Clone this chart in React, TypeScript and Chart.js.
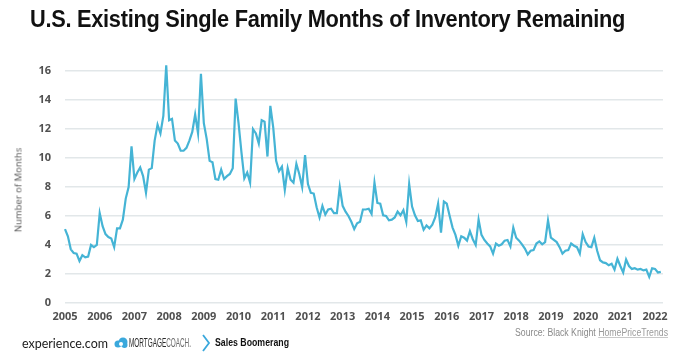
import React, { useEffect, useRef } from "react";
import { Chart, registerables } from "chart.js";

Chart.register(...registerables);

// Monthly values, starting January 2005
const startYear = 2005;
const monthsOfInventory: number[] = [
  // 2005
  5.1, 4.6, 3.7, 3.45, 3.4, 2.9, 3.3, 3.15, 3.2, 4.0, 3.85, 4.0,
  // 2006
  6.2, 5.3, 4.75, 4.55, 4.45, 3.85, 5.15, 5.15, 5.75, 7.2, 8.0, 10.8,
  // 2007
  8.55, 9.0, 9.35, 8.75, 7.6, 9.2, 9.3, 11.2, 12.3, 11.7, 12.9, 16.4,
  // 2008
  12.6, 12.7, 11.2, 11.0, 10.5, 10.5, 10.7, 11.2, 11.8, 13.0, 11.7, 15.8,
  // 2009
  12.4, 11.3, 9.8, 9.7, 8.55, 8.5, 9.2, 8.55, 8.75, 8.9, 9.3, 14.1,
  // 2010
  12.4, 10.4, 8.6, 9.0, 8.3, 12.0, 11.7, 11.0, 12.6, 12.5, 10.1, 13.6,
  // 2011
  12.1, 9.8, 9.1, 9.4, 7.8, 9.3, 8.5, 8.3, 9.6, 8.9, 8.0, 10.2,
  // 2012
  8.2, 7.6, 7.55, 6.6, 5.9, 6.7, 6.1, 6.45, 6.5, 6.2, 6.2, 8.0,
  // 2013
  6.7, 6.3, 6.0, 5.6, 5.1, 5.5, 5.6, 6.45, 6.45, 6.5, 6.15, 8.3,
  // 2014
  6.9, 6.85, 6.05, 6.0, 5.7, 5.75, 5.9, 6.3, 6.05, 6.4, 5.6, 8.2,
  // 2015
  6.65, 6.05, 5.65, 5.7, 5.05, 5.35, 5.15, 5.4, 5.9, 6.85, 4.85, 7.0,
  // 2016
  6.85, 6.0, 5.2, 4.7, 3.95, 4.6, 4.5, 4.3, 4.95, 4.4, 4.0, 5.75,
  // 2017
  4.7, 4.35, 4.1, 3.9, 3.4, 4.1, 3.95, 4.05, 4.3, 4.35, 3.9, 5.2,
  // 2018
  4.5, 4.3, 4.05, 3.75, 3.35, 3.6, 3.65, 4.1, 4.25, 4.05, 4.2, 5.7,
  // 2019
  4.5, 4.35, 4.2, 3.85, 3.4, 3.6, 3.65, 4.1, 3.95, 3.85, 3.4, 4.75,
  // 2020
  4.2, 3.9, 3.85, 4.5, 3.6, 2.95, 2.8, 2.75, 2.6, 2.7, 2.3, 3.05,
  // 2021
  2.55, 2.1, 3.0, 2.55, 2.35, 2.4, 2.3, 2.35, 2.25, 2.3, 1.8, 2.4,
  // 2022
  2.35, 2.1, 2.15,
];

const yearTicks: number[] = [
  2005, 2006, 2007, 2008, 2009, 2010, 2011, 2012, 2013, 2014, 2015, 2016,
  2017, 2018, 2019, 2020, 2021, 2022,
];
const valueTicks: number[] = [0, 2, 4, 6, 8, 10, 12, 14, 16];

const chartTitle = "U.S. Existing Single Family Months of Inventory Remaining";
const yAxisTitle = "Number of Months";
const sourceText = "Source: Black Knight ";
const sourceBrand = "HomePriceTrends";

function fitWidth(el: HTMLElement | null, target: number) {
  if (!el) return;
  el.style.transform = "none";
  const w = el.getBoundingClientRect().width;
  if (w > 0) el.style.transform = `scaleX(${target / w})`;
}

export default function App() {
  const canvasRef = useRef<HTMLCanvasElement>(null);
  const titleRef = useRef<HTMLSpanElement>(null);
  const mcRef = useRef<HTMLSpanElement>(null);
  const sbRef = useRef<HTMLSpanElement>(null);
  const srcRef = useRef<HTMLSpanElement>(null);
  const expRef = useRef<HTMLSpanElement>(null);

  useEffect(() => {
    document.body.style.margin = "0";
    fitWidth(titleRef.current, 595);
    fitWidth(mcRef.current, 62);
    fitWidth(sbRef.current, 74);
    fitWidth(srcRef.current, 153);
    fitWidth(expRef.current, 86);

    const points = monthsOfInventory.map((v, i) => ({ x: startYear + i / 12, y: v }));
    const tickFont = { family: "'Open Sans', 'DejaVu Sans', sans-serif", size: 11, weight: "bold" as const };
    const chart = new Chart(canvasRef.current as HTMLCanvasElement, {
      type: "line",
      data: {
        datasets: [
          {
            data: points,
            borderColor: "#45b4d5",
            borderWidth: 2.2,
            pointRadius: 0,
            tension: 0,
            fill: false,
            clip: false as any,
          },
        ],
      },
      options: {
        animation: false,
        responsive: false,
        layout: { padding: { left: 8, right: 30, top: 71, bottom: 30 } },
        plugins: { legend: { display: false }, tooltip: { enabled: false }, title: { display: false } },
        scales: {
          x: {
            type: "linear",
            min: 2005,
            max: 2022.23,
            afterBuildTicks: (s: any) => {
              s.ticks = yearTicks.map((v) => ({ value: v }));
            },
            afterFit: (s: any) => {
              s.height = 25;
            },
            grid: { display: false, drawTicks: false },
            border: { display: false },
            ticks: {
              color: "#505050",
              font: tickFont,
              padding: 7,
              maxRotation: 0,
              autoSkip: false,
              callback: (v: any) => String(v),
            },
          },
          y: {
            min: 0,
            max: 16,
            afterBuildTicks: (s: any) => {
              s.ticks = valueTicks.map((v) => ({ value: v }));
            },
            afterFit: (s: any) => {
              s.width = 57;
            },
            grid: { color: "#e2e7e9", lineWidth: 1.5, drawTicks: false },
            border: { display: false },
            ticks: {
              color: "#505050",
              font: tickFont,
              padding: 14,
              callback: (v: any) => String(v),
            },
          },
        },
      },
    });
    return () => chart.destroy();
  }, []);

  return (
    <div style={{ position: "relative", width: 693, height: 358, background: "#ffffff", overflow: "hidden" }}>
      <canvas ref={canvasRef} width={693} height={358} style={{ position: "absolute", left: 0, top: 0, display: "block" }} />
      <span
        ref={titleRef}
        style={{
          position: "absolute",
          left: 30,
          top: 8,
          fontFamily: "'Liberation Sans', Arial, sans-serif",
          fontWeight: "bold",
          fontSize: 23,
          lineHeight: "23px",
          color: "#111111",
          whiteSpace: "nowrap",
          transformOrigin: "0 0",
          letterSpacing: -0.3,
        }}
      >
        {chartTitle}
      </span>
      <div
        style={{
          position: "absolute",
          left: 18,
          top: 190,
          transform: "translate(-50%, -50%) rotate(-90deg)",
          fontFamily: "'Open Sans', 'DejaVu Sans', sans-serif",
          fontSize: 9.5,
          color: "#555555",
          whiteSpace: "nowrap",
        }}
      >
        {yAxisTitle}
      </div>
      <span
        ref={srcRef}
        style={{
          position: "absolute",
          left: 515,
          top: 327,
          fontFamily: "'Liberation Sans', Arial, sans-serif",
          fontSize: 10,
          lineHeight: "12px",
          color: "#8a8a8a",
          whiteSpace: "nowrap",
          transformOrigin: "0 0",
        }}
      >
        {sourceText}
        <span style={{ color: "#9a9a9a", textDecoration: "underline", textDecorationColor: "#c8c8c8" }}>{sourceBrand}</span>
      </span>
      <span
        ref={expRef}
        style={{
          position: "absolute",
          left: 22,
          top: 336,
          fontFamily: "'Lato', 'Liberation Sans', sans-serif",
          fontSize: 13,
          lineHeight: "14px",
          color: "#1a1a1a",
          whiteSpace: "nowrap",
          transformOrigin: "0 0",
        }}
      >
        experience.com
      </span>
      <svg width="14" height="12" viewBox="0 0 14 12" style={{ position: "absolute", left: 114, top: 337 }}>
        <circle cx="4" cy="7" r="3.5" fill="#3aa8dc" />
        <circle cx="9" cy="5" r="4.5" fill="#3aa8dc" />
        <circle cx="10.5" cy="8" r="3" fill="#3aa8dc" />
        <circle cx="7" cy="7" r="2" fill="#ffffff" />
      </svg>
      <span
        ref={mcRef}
        style={{
          position: "absolute",
          left: 129,
          top: 337,
          fontFamily: "'Liberation Sans', Arial, sans-serif",
          fontSize: 12,
          lineHeight: "12px",
          color: "#2a2a2a",
          whiteSpace: "nowrap",
          transformOrigin: "0 0",
        }}
      >
        MORTGAGE<span style={{ color: "#6a6a6a", fontWeight: 300 }}>COACH.</span>
      </span>
      <svg width="10" height="18" viewBox="0 0 10 18" style={{ position: "absolute", left: 201, top: 334 }}>
        <polyline points="2,1 8,9 2,17" fill="none" stroke="#3aa8dc" strokeWidth="1.8" />
      </svg>
      <span
        ref={sbRef}
        style={{
          position: "absolute",
          left: 215,
          top: 337,
          fontFamily: "'Liberation Sans', Arial, sans-serif",
          fontWeight: "bold",
          fontSize: 10,
          lineHeight: "12px",
          color: "#111111",
          whiteSpace: "nowrap",
          transformOrigin: "0 0",
        }}
      >
        Sales Boomerang
      </span>
    </div>
  );
}
